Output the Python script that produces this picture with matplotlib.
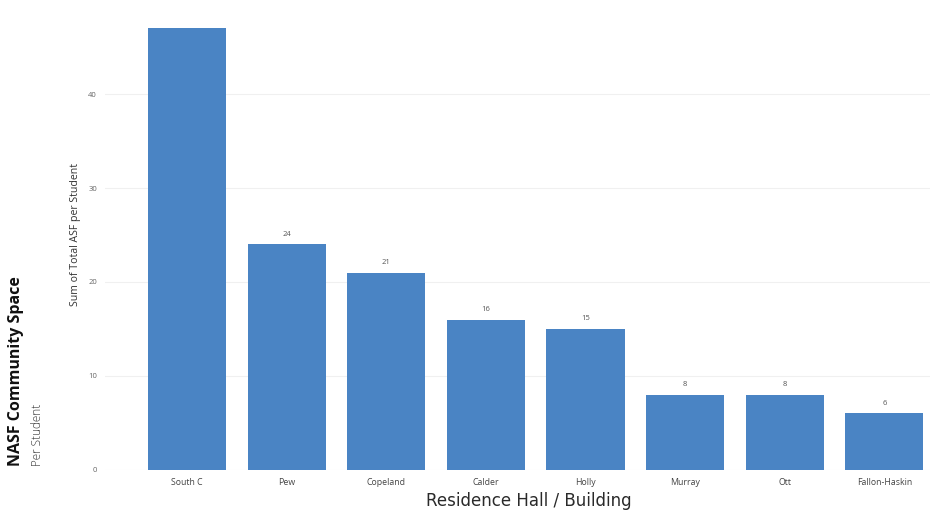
import matplotlib.pyplot as plt

halls = ["South C", "Pew", "Copeland", "Calder", "Holly", "Murray", "Ott", "Fallon-Haskin"]
asf_per_student = [47, 24, 21, 16, 15, 8, 8, 6]
y_ticks = [0, 10, 20, 30, 40]

plt.rcParams['font.family'] = ['Open Sans', 'DejaVu Sans']

fig = plt.figure(figsize=(9.32, 5.14), dpi=100)
ax = fig.add_axes([0.113, 0.086, 0.885, 0.877])

x = range(len(halls))
ax.bar(x, asf_per_student, width=0.785, color='#4a84c4', zorder=2)

# value labels above bars (the first one runs off the top)
for i, v in enumerate(asf_per_student):
    if i == 0:
        continue
    ax.text(i, v + 0.7, str(v), ha='center', va='bottom', fontsize=5.5, color='#555555')

ax.set_xlim(-0.82, 7.46)
ax.set_ylim(0, 48)
ax.set_yticks(y_ticks)
ax.set_yticklabels([str(t) for t in y_ticks], fontsize=5.5, color='#666666')
ax.set_xticks(list(x))
ax.set_xticklabels(halls, fontsize=6.3, color='#444444')
ax.tick_params(length=0, pad=6)
ax.grid(axis='y', color='#f0f0f0', linewidth=0.8, zorder=0)
for s in ax.spines.values():
    s.set_visible(False)

ax.set_ylabel("Sum of Total ASF per Student", fontsize=7.6, color='#333333')
ax.yaxis.set_label_coords(-0.029, 0.523)

fig.text(0.567, 0.008, "Residence Hall / Building", ha='center', va='bottom',
         fontsize=12, color='#2a2a2a', family='DejaVu Sans')
fig.text(0.017, 0.093, "NASF Community Space", rotation=90, ha='center', va='bottom',
         fontsize=11.5, fontweight='bold', color='#111111')
fig.text(0.040, 0.093, "Per Student", rotation=90, ha='center', va='bottom',
         fontsize=8.5, fontweight='light', color='#333333')

fig.savefig('out.png', dpi=100)
